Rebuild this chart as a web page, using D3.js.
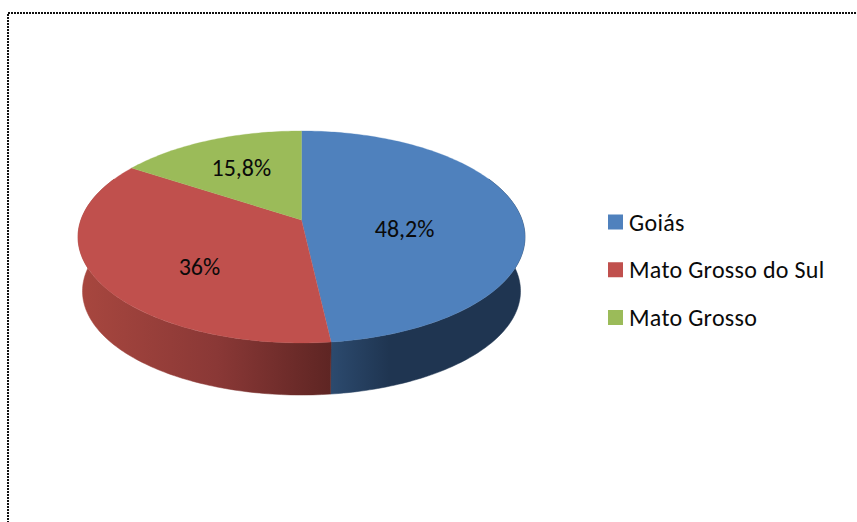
<!DOCTYPE html>
<html><head><meta charset="utf-8">
<script src="https://cdn.jsdelivr.net/npm/d3@7"></script>
<style>html,body{margin:0;padding:0;background:#fff;overflow:hidden}svg{display:block}text{font-family:Carlito,Lato,"Open Sans",sans-serif;fill:#0a0a0a}</style>
</head><body><svg id="c" width="857" height="522"></svg>
<script>
const categories = ["Goiás","Mato Grosso do Sul","Mato Grosso"];
const values = [48.2,36,15.8];
const valueLabels = ["48,2%","36%","15,8%"];
const topColors = ["#4f81bd","#c0504d","#9bbb59"];
const labelRadius = [0.47,0.52,0.623];
const labelNudge = [11,17.5,0];
const W=857,H=522;
const svg=d3.select("#c");
const apex={x:301.5,y:220},a=220.6,b=103.3,k=0.16,depth=54.5,shrink=0.98;
function proj(t,r=1){const u=r*Math.sin(t),v=-r*Math.cos(t),w=1-k*v;return [apex.x+a*u/w,apex.y+b*v/w];}
function base(t){const u=Math.sin(t),v=-Math.cos(t),w=1-k*v;return [apex.x+shrink*a*u/w,apex.y+depth+shrink*b*v/w];}
const arcs=d3.pie().sort(null).value(d=>d)(values);
const line=d3.line();
const samples=(s,e)=>{const n=Math.max(2,Math.ceil((e-s)/(Math.PI/180)));return d3.range(n+1).map(i=>s+(e-s)*i/n);};
svg.append("rect").attr("width",W).attr("height",H).attr("fill","#fff");
svg.append("rect").attr("x",8).attr("y",13).attr("width",W+20).attr("height",H+20).attr("fill","none").attr("stroke","#111").attr("stroke-width",2).attr("stroke-dasharray","2 1");
const defs=svg.append("defs");
const wallStops=[[["#2c4a6e",0],["#1f3551",0.3],["#1f3551",1]],[["#a8473f",0],["#8a3836",0.55],["#5e2523",1]],[["#5f7336",0],["#5f7336",1]]];
const lim0=65*Math.PI/180,lim1=295*Math.PI/180;
arcs.forEach((d,i)=>{
  const s=Math.max(d.startAngle,lim0),e=Math.min(d.endAngle,lim1);
  if(e<=s)return;
  const ts=samples(s,e);
  const top=ts.map(t=>proj(t)),bot=ts.map(t=>base(t));
  const [x0,x1]=d3.extent(top.concat(bot),p=>p[0]);
  const g=defs.append("linearGradient").attr("id","w"+i).attr("gradientUnits","userSpaceOnUse")
    .attr("x1",i===0?proj(d.endAngle)[0]:x0).attr("x2",i===0?x1:proj(d.startAngle)[0]).attr("y1",0).attr("y2",0);
  wallStops[i].forEach(([c,o])=>g.append("stop").attr("offset",o).attr("stop-color",c));
  const pts=top.concat(bot.slice().reverse());
  svg.append("path").attr("d",line(pts)+"Z").attr("fill",`url(#w${i})`).attr("stroke",`url(#w${i})`).attr("stroke-width",0.5);
});
arcs.forEach((d,i)=>{
  const pts=[[apex.x,apex.y]].concat(samples(d.startAngle,d.endAngle).map(t=>proj(t)));
  svg.append("path").attr("d",line(pts)+"Z").attr("fill",topColors[i]).attr("stroke",topColors[i]).attr("stroke-width",0.3);
});
arcs.forEach((d,i)=>{
  const p=proj((d.startAngle+d.endAngle)/2,labelRadius[i]);
  svg.append("text").attr("x",p[0]).attr("y",p[1]+labelNudge[i]).attr("text-anchor","middle").attr("dominant-baseline","central").attr("font-size",24).text(valueLabels[i]);
});
const leg=d3.scalePoint().domain(categories).range([222,317.5]);
categories.forEach((c,i)=>{
  svg.append("rect").attr("x",608).attr("y",leg(c)-7.5).attr("width",15).attr("height",15).attr("fill",topColors[i]);
  svg.append("text").attr("x",629).attr("y",leg(c)).attr("dominant-baseline","central").attr("font-size",24).attr("letter-spacing",0.3).text(c);
});
</script></body></html>
